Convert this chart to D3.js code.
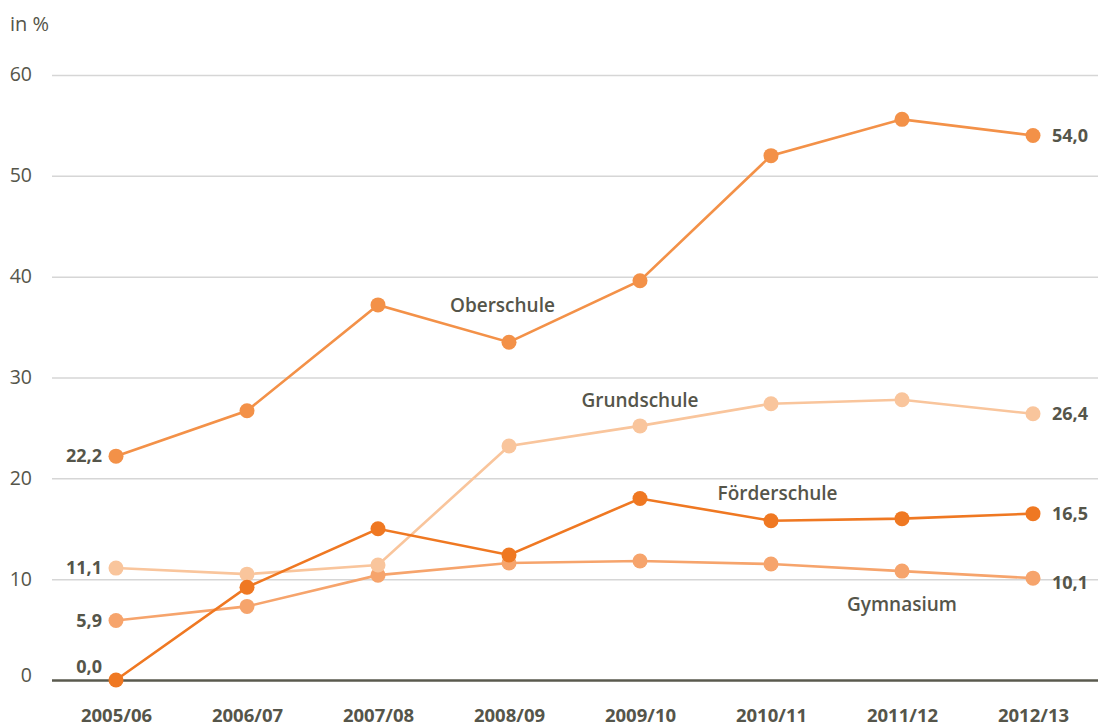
<!DOCTYPE html>
<html lang="de">
<head>
<meta charset="utf-8">
<script src="https://cdn.jsdelivr.net/npm/d3@7"></script>
<style>
  html, body { margin: 0; padding: 0; background: #ffffff; }
  svg { display: block; font-family: "Open Sans", "Noto Sans", sans-serif; }
</style>
</head>
<body>
<svg id="chart" width="1106" height="726"></svg>
<script>
// Schuljahre
const years = ["2005/06", "2006/07", "2007/08", "2008/09", "2009/10", "2010/11", "2011/12", "2012/13"];

// Anteile in %
const oberschule   = [22.2, 26.7, 37.2, 33.5, 39.6, 52.0, 55.6, 54.0];
const grundschule  = [11.1, 10.5, 11.4, 23.2, 25.2, 27.4, 27.8, 26.4];
const foerderschule = [0.0, 9.2, 15.0, 12.4, 18.0, 15.8, 16.0, 16.5];
const gymnasium    = [5.9, 7.3, 10.4, 11.6, 11.8, 11.5, 10.8, 10.1];

const yTicks = [0, 10, 20, 30, 40, 50, 60];

// Series, drawn back to front; label anchor given as (year index, value)
const series = [
  { name: "Gymnasium",    values: gymnasium,     color: "#f6a46c", labelAt: [6, 7.5] },
  { name: "Grundschule",  values: grundschule,   color: "#f9c59c", labelAt: [4, 27.7] },
  { name: "Förderschule", values: foerderschule, color: "#ef7822", labelAt: [5.05, 18.5] },
  { name: "Oberschule",   values: oberschule,    color: "#f39148", labelAt: [2.95, 37.2] }
];

const fmt = v => v.toFixed(1).replace(".", ",");
const textColor = "#55554a";

const svg = d3.select("#chart");

const x = d3.scalePoint().domain(years).range([116, 1033]);
const y = d3.scaleLinear().domain([0, 60]).range([680, 75]);

// Gridlines and y tick labels
const yAxis = d3.axisLeft(y).tickValues(yTicks).tickSize(-1046).tickPadding(20).tickFormat(d3.format("d"));
const gy = svg.append("g").attr("transform", "translate(52,0)").call(yAxis);
gy.select(".domain").remove();
gy.selectAll(".tick line")
  .attr("stroke", d => d === 0 ? "#5a5a4e" : "#d6d6d6")
  .attr("stroke-width", d => d === 0 ? 2.5 : 1.5);
gy.selectAll(".tick text")
  .attr("fill", textColor)
  .attr("font-size", 19.5)
  .attr("font-family", "\"Open Sans\", sans-serif")
  .attr("dy", d => d === 0 ? "0.1em" : "0.3em");

// x axis labels
const xAxis = d3.axisBottom(x).tickSize(0).tickPadding(29);
const gx = svg.append("g").attr("transform", "translate(0,680)").call(xAxis);
gx.select(".domain").remove();
gx.selectAll(".tick text")
  .attr("fill", textColor)
  .attr("font-size", 18.5)
  .attr("font-weight", 700)
  .attr("font-family", "\"Open Sans\", sans-serif");

// Unit label
svg.append("text")
  .attr("x", 10).attr("y", 31)
  .attr("fill", textColor)
  .attr("font-size", 20)
  .text("in %");

const line = d3.line()
  .x((d, i) => x(years[i]))
  .y(d => y(d));

const g = svg.append("g");
series.forEach(s => {
  g.append("path")
    .datum(s.values)
    .attr("fill", "none")
    .attr("stroke", s.color)
    .attr("stroke-width", 2.6)
    .attr("d", line);
  g.selectAll(null)
    .data(s.values)
    .join("circle")
    .attr("cx", (d, i) => x(years[i]))
    .attr("cy", d => y(d))
    .attr("r", 7.5)
    .attr("fill", s.color);
});

// Series names
const step = x.step();
series.forEach(s => {
  svg.append("text")
    .attr("x", x(years[0]) + s.labelAt[0] * step)
    .attr("y", y(s.labelAt[1]))
    .attr("dy", "0.35em")
    .attr("text-anchor", "middle")
    .attr("fill", textColor)
    .attr("font-size", 19)
    .attr("font-weight", 600)
    .text(s.name);
});

// Start and end values
series.forEach(s => {
  const first = s.values[0];
  const last = s.values[s.values.length - 1];
  const isZero = first === 0;
  svg.append("text")
    .attr("x", x(years[0]) - 14)
    .attr("y", y(first) + (isZero ? -13 : 0))
    .attr("dy", "0.35em")
    .attr("text-anchor", "end")
    .attr("fill", textColor)
    .attr("font-size", 18)
    .attr("font-weight", 700)
    .text(fmt(first));
  svg.append("text")
    .attr("x", x(years[years.length - 1]) + 19)
    .attr("y", y(last) + (s.name === "Gymnasium" ? 5 : 0))
    .attr("dy", "0.35em")
    .attr("text-anchor", "start")
    .attr("fill", textColor)
    .attr("font-size", 18)
    .attr("font-weight", 700)
    .text(fmt(last));
});
</script>
</body>
</html>
